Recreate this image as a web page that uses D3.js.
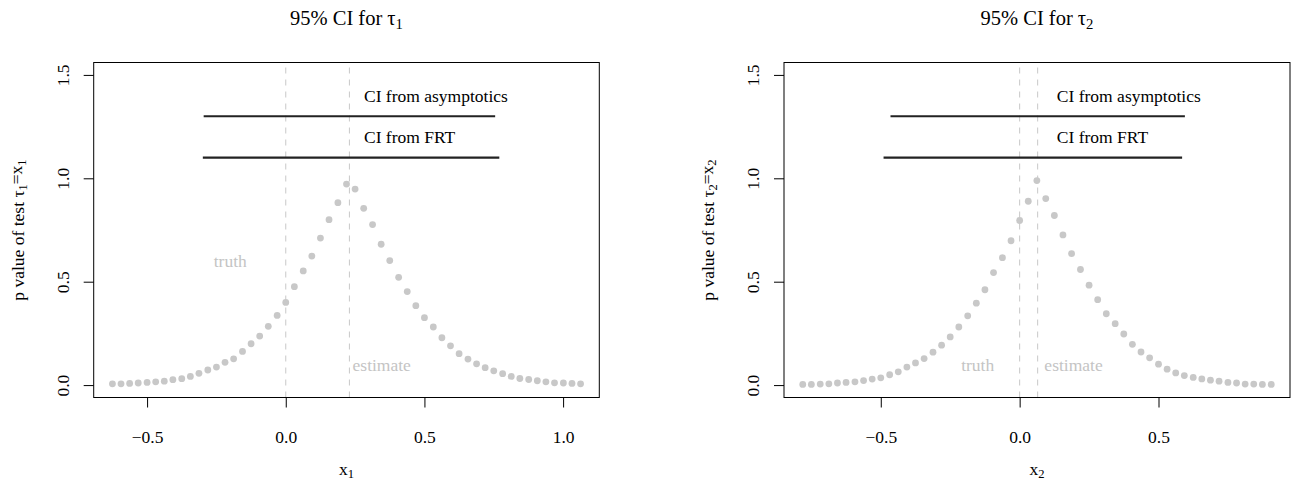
<!DOCTYPE html>
<meta charset="utf-8">
<style>
body { margin: 0; background: #fff; }
svg { font-family: "Liberation Serif", "DejaVu Serif", serif; }
.box { fill: none; stroke: #000; stroke-width: 1; }
.tick line { stroke: #000; }
.pts circle { fill: #c8c8c8; }
.ref { stroke: #c8c8c8; stroke-dasharray: 6,6; }
.ci { stroke: #222; stroke-width: 2.2; }
.note { fill: #c4c4c4; }
</style>
<svg id="chart" width="1295" height="483"></svg>
<script src="https://d3js.org/d3.v7.min.js"></script>
<script>

// panel 1: tau_1
var x1 = [-0.625, -0.594, -0.563, -0.532, -0.500, -0.469, -0.438, -0.407, -0.375, -0.344,
          -0.313, -0.281, -0.250, -0.219, -0.188, -0.156, -0.125, -0.094, -0.063, -0.031,
           0.000,  0.031,  0.063,  0.094,  0.125,  0.156,  0.188,  0.219,  0.250,  0.281,
           0.313,  0.344,  0.375,  0.407,  0.438,  0.469,  0.500,  0.532,  0.563,  0.594,
           0.625,  0.657,  0.688,  0.719,  0.750,  0.782,  0.813,  0.844,  0.876,  0.907,
           0.938,  0.969,  1.001,  1.032,  1.063];
var p1 = [0.006, 0.006, 0.008, 0.010, 0.013, 0.016, 0.019, 0.026, 0.031, 0.042,
          0.057, 0.073, 0.087, 0.110, 0.127, 0.163, 0.200, 0.237, 0.284, 0.337,
          0.400, 0.476, 0.552, 0.624, 0.711, 0.800, 0.882, 0.972, 0.948, 0.855,
          0.776, 0.681, 0.602, 0.521, 0.452, 0.384, 0.326, 0.281, 0.229, 0.190,
          0.152, 0.126, 0.103, 0.084, 0.069, 0.055, 0.042, 0.032, 0.027, 0.021,
          0.016, 0.011, 0.010, 0.008, 0.006];
var truth1 = 0, est1 = 0.2295;
var asym1 = [-0.296, 0.755];
var frt1 = [-0.299, 0.770];

// panel 2: tau_2
var x2 = [-0.781, -0.750, -0.718, -0.687, -0.656, -0.625, -0.593, -0.562, -0.531, -0.500,
          -0.468, -0.437, -0.406, -0.375, -0.344, -0.312, -0.281, -0.250, -0.219, -0.187,
          -0.156, -0.125, -0.094, -0.062, -0.031,  0.000,  0.031,  0.062,  0.094,  0.125,
           0.156,  0.187,  0.219,  0.250,  0.281,  0.312,  0.344,  0.375,  0.406,  0.437,
           0.468,  0.500,  0.531,  0.562,  0.593,  0.625,  0.656,  0.687,  0.718,  0.750,
           0.781,  0.812,  0.843,  0.874,  0.906];
var p2 = [0.003, 0.003, 0.005, 0.006, 0.010, 0.013, 0.016, 0.022, 0.029, 0.035,
          0.050, 0.064, 0.087, 0.107, 0.128, 0.159, 0.193, 0.233, 0.281, 0.335,
          0.396, 0.461, 0.544, 0.616, 0.698, 0.796, 0.889, 0.989, 0.902, 0.820,
          0.726, 0.636, 0.559, 0.483, 0.413, 0.345, 0.297, 0.247, 0.197, 0.160,
          0.132, 0.101, 0.077, 0.059, 0.046, 0.037, 0.030, 0.024, 0.019, 0.013,
          0.010, 0.005, 0.005, 0.003, 0.003];
var truth2 = 0, est2 = 0.0649;
var asym2 = [-0.465, 0.595];
var frt2 = [-0.490, 0.585];

var xTicks1 = [-0.5, 0.0, 0.5, 1.0];
var xTicks2 = [-0.5, 0.0, 0.5];
var yTicks = [0.0, 0.5, 1.0, 1.5];
var yLim = [0, 1.5];

var svg = d3.select("#chart");
var fs = 17.5;

// R style: pad the range by 4% on each side
function rpad(lim) {
  var d = (lim[1] - lim[0]) * 0.04;
  return [lim[0] - d, lim[1] + d];
}

// text with subscript pieces: parts = [[text, isSub], ...]
function subText(sel, parts) {
  parts.forEach(function(p, i) {
    var t = sel.append("tspan").text(p[0]);
    if (p[1]) t.attr("font-size", "0.72em").attr("dy", "0.25em");
    else if (i > 0) t.attr("dy", "-0.25em");
  });
}

function drawPanel(cfg) {
  var g = svg.append("g");
  var x = d3.scaleLinear().domain(rpad(d3.extent(cfg.xs))).range([cfg.left, cfg.right]);
  var y = d3.scaleLinear().domain(rpad(yLim)).range([397.5, 62.5]);

  g.append("line").attr("class", "ref")
      .attr("x1", x(cfg.truth)).attr("x2", x(cfg.truth))
      .attr("y1", y.range()[0]).attr("y2", y.range()[1]);
  g.append("line").attr("class", "ref")
      .attr("x1", x(cfg.est)).attr("x2", x(cfg.est))
      .attr("y1", y.range()[0]).attr("y2", y.range()[1]);

  g.append("g").attr("class", "pts")
    .selectAll("circle")
    .data(cfg.xs.map(function(d, i) { return [d, cfg.ps[i]]; }))
    .enter().append("circle")
      .attr("cx", function(d) { return x(d[0]); })
      .attr("cy", function(d) { return y(d[1]); })
      .attr("r", 3.4);

  g.append("line").attr("class", "ci")
      .attr("x1", x(cfg.asym[0])).attr("x2", x(cfg.asym[1]))
      .attr("y1", y(1.3)).attr("y2", y(1.3));
  g.append("line").attr("class", "ci")
      .attr("x1", x(cfg.frt[0])).attr("x2", x(cfg.frt[1]))
      .attr("y1", y(1.1)).attr("y2", y(1.1));

  g.append("text").attr("x", x(cfg.labelX)).attr("y", y(1.4))
      .attr("dy", "0.35em").attr("font-size", fs).text("CI from asymptotics");
  g.append("text").attr("x", x(cfg.labelX)).attr("y", y(1.2))
      .attr("dy", "0.35em").attr("font-size", fs).text("CI from FRT");

  g.append("text").attr("class", "note").attr("text-anchor", "middle")
      .attr("x", x(cfg.truthPos[0])).attr("y", y(cfg.truthPos[1]))
      .attr("dy", "0.35em").attr("font-size", fs).text("truth");
  g.append("text").attr("class", "note").attr("text-anchor", "middle")
      .attr("x", x(cfg.estPos[0])).attr("y", y(cfg.estPos[1]))
      .attr("dy", "0.35em").attr("font-size", fs).text("estimate");

  g.append("rect").attr("class", "box")
      .attr("x", cfg.left).attr("y", 62.5)
      .attr("width", cfg.right - cfg.left).attr("height", 397.5 - 62.5);

  var xa = g.append("g").attr("transform", "translate(0,397.5)")
      .call(d3.axisBottom(x).tickValues(cfg.xTicks).tickFormat(d3.format(".1f")).tickSize(10));
  xa.attr("font-family", null).attr("font-size", null);
  xa.select(".domain").remove();
  xa.selectAll("text").attr("font-size", fs).attr("y", 39.5).attr("dy", "0.35em");

  var ya = g.append("g").attr("transform", "translate(" + cfg.left + ",0)")
      .call(d3.axisLeft(y).tickValues(yTicks).tickFormat(d3.format(".1f")).tickSize(10));
  ya.attr("font-family", null).attr("font-size", null);
  ya.select(".domain").remove();
  ya.selectAll("text")
      .attr("font-size", fs)
      .attr("x", null)
      .attr("text-anchor", "middle")
      .attr("transform", "translate(-31,0) rotate(-90)")
      .attr("dy", "0.35em");

  var cx = (cfg.left + cfg.right) / 2;
  subText(g.append("text").attr("x", cx).attr("y", 25).attr("text-anchor", "middle")
      .attr("font-size", 20.5), [["95% CI for \u03c4", false], [cfg.k, true]]);
  subText(g.append("text").attr("x", cx).attr("y", 475).attr("text-anchor", "middle")
      .attr("font-size", fs), [["x", false], [cfg.k, true]]);
  subText(g.append("text").attr("text-anchor", "middle").attr("font-size", fs)
      .attr("transform", "translate(" + (cfg.left - 70) + "," + ((62.5 + 397.5) / 2) + ") rotate(-90)"),
      [["p value of test \u03c4", false], [cfg.k, true], ["=x", false], [cfg.k, true]]);
}

drawPanel({ xs: x1, ps: p1, truth: truth1, est: est1, asym: asym1, frt: frt1,
  left: 93.7, right: 599.3, xTicks: xTicks1, k: "1", labelX: 0.282,
  truthPos: [-0.2, 0.6], estPos: [0.346, 0.1] });
drawPanel({ xs: x2, ps: p2, truth: truth2, est: est2, asym: asym2, frt: frt2,
  left: 784, right: 1290, xTicks: xTicks2, k: "2", labelX: 0.134,
  truthPos: [-0.151, 0.1], estPos: [0.194, 0.1] });

</script>
